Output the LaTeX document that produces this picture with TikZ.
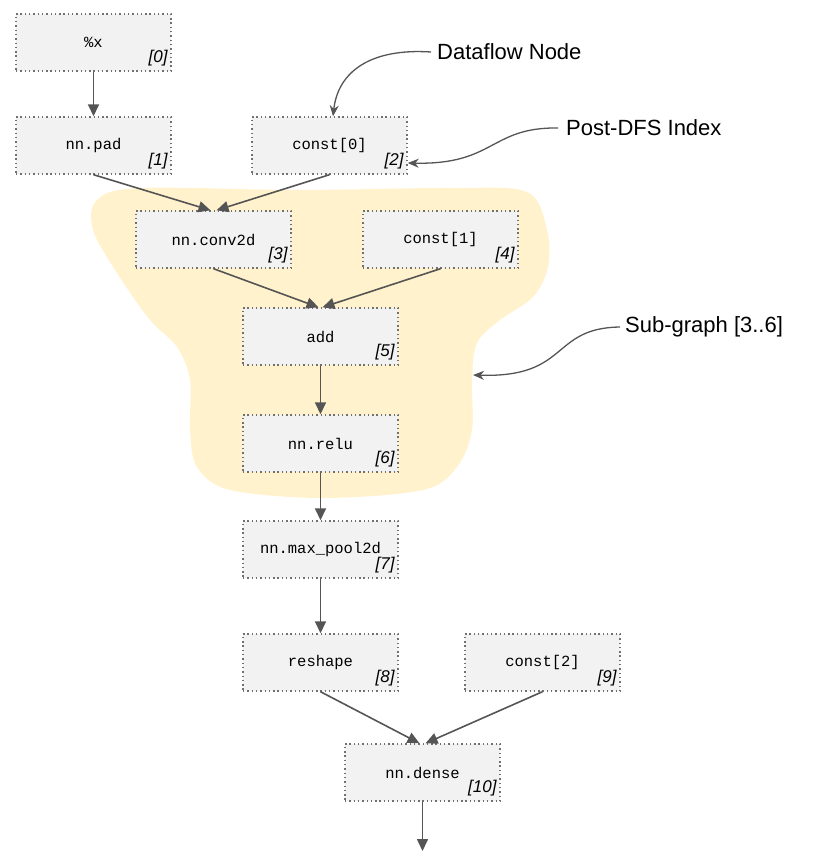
\documentclass[tikz,border=0pt]{standalone}
\usepackage{fontspec}
\setmainfont{Liberation Sans}
\setmonofont{Liberation Mono}
\usetikzlibrary{arrows.meta}
\definecolor{boxfill}{HTML}{F2F2F2}
\definecolor{boxline}{HTML}{707070}
\definecolor{edgec}{HTML}{555555}
\definecolor{blobc}{HTML}{FFF2CC}
\begin{document}
\begin{tikzpicture}[x=1pt,y=-1pt,
 opbox/.style={draw=boxline, fill=boxfill, line width=1.4pt, dash pattern=on 1.4pt off 2.9pt, minimum width=155pt, minimum height=57pt, inner sep=0pt, font=\fontsize{15.5}{17}\selectfont\ttfamily},
 idx/.style={inner sep=0pt, anchor=south east, font=\fontsize{17}{19}\selectfont\itshape},
 flow/.style={draw=edgec, line width=1.6pt, -{Triangle[length=12pt,width=11pt]}},
 note/.style={draw=edgec, line width=1.3pt, -{Stealth[length=11pt,width=9pt,inset=3.5pt]}},
 ann/.style={inner sep=0pt, anchor=west, font=\fontsize{22}{26}\selectfont}]
\useasboundingbox (0,0) rectangle (813,856);
% sub-graph region
\fill[blobc] plot[smooth cycle, tension=0.55] coordinates {
 (97,200) (140,188) (300,190) (450,188) (527,192) (547,230) (548,267) (533,297)
 (500,320) (477,343) (472,380) (472,430) (457,467) (423,490) (323,498) (230,490)
 (197,467) (190,430) (190,380) (177,347) (150,320) (117,273) (93,230)};
% nodes
\node[opbox] (n0) at (93.5,42.5) {\%x};
\node[opbox] (n1) at (93.5,145.5) {nn.pad};
\node[opbox] (n2) at (329.5,145.5) {const[0]};
\node[opbox] (n3) at (213.5,239.5) {nn.conv2d};
\node[opbox] (n4) at (440.5,239.5) {const[1]};
\node[opbox] (n5) at (320.5,336.5) {add};
\node[opbox] (n6) at (320.5,443.5) {nn.relu};
\node[opbox] (n7) at (320.5,549.5) {nn.max\_pool2d};
\node[opbox] (n8) at (320.5,662.5) {reshape};
\node[opbox] (n9) at (542.5,662.5) {const[2]};
\node[opbox] (n10) at (422.5,772.5) {nn.dense};
% indices
\node[idx] (i0) at ([xshift=-4pt,yshift=5pt]n0.south east) {[0]};
\node[idx] (i1) at ([xshift=-4pt,yshift=5pt]n1.south east) {[1]};
\node[idx] (i2) at ([xshift=-4pt,yshift=5pt]n2.south east) {[2]};
\node[idx] (i3) at ([xshift=-4pt,yshift=5pt]n3.south east) {[3]};
\node[idx] (i4) at ([xshift=-4pt,yshift=5pt]n4.south east) {[4]};
\node[idx] (i5) at ([xshift=-4pt,yshift=5pt]n5.south east) {[5]};
\node[idx] (i6) at ([xshift=-4pt,yshift=5pt]n6.south east) {[6]};
\node[idx] (i7) at ([xshift=-4pt,yshift=5pt]n7.south east) {[7]};
\node[idx] (i8) at ([xshift=-4pt,yshift=5pt]n8.south east) {[8]};
\node[idx] (i9) at ([xshift=-4pt,yshift=5pt]n9.south east) {[9]};
\node[idx] (i10) at ([xshift=-4pt,yshift=5pt]n10.south east) {[10]};
% edges
\draw[flow] (n0.south) -- (n1.north);
\draw[flow] (n1.south) -- ([xshift=-3pt]n3.north);
\draw[flow] (n2.south) -- ([xshift=3pt]n3.north);
\draw[flow] (n3.south) -- ([xshift=-2pt]n5.north);
\draw[flow] (n4.south) -- ([xshift=2pt]n5.north);
\draw[flow] (n5.south) -- (n6.north);
\draw[flow] (n6.south) -- (n7.north);
\draw[flow] (n7.south) -- (n8.north);
\draw[flow] (n8.south) -- ([xshift=-3pt]n10.north);
\draw[flow] (n9.south) -- ([xshift=3pt]n10.north);
\coordinate (out) at (422.5,851);
\draw[flow] (n10.south) -- (out);
% annotations
\node[ann] (a1) at (437,52) {Dataflow Node};
\node[ann] (a2) at (566,128) {Post-DFS Index};
\node[ann] (a3) at (625,327) {Sub-graph [3..6]};
\coordinate (sg) at (473,375);
\draw[note] ([xshift=-6pt]a1.west) .. controls (370,48) and (338,72) .. ([xshift=3.5pt]n2.north);
\draw[note] ([xshift=-8pt]a2.west) .. controls (490,127) and (495,165) .. ([yshift=-17.5pt]n2.east);
\draw[note] ([xshift=-5pt]a3.west) .. controls (550,328) and (570,378) .. (sg);
\end{tikzpicture}
\end{document}
